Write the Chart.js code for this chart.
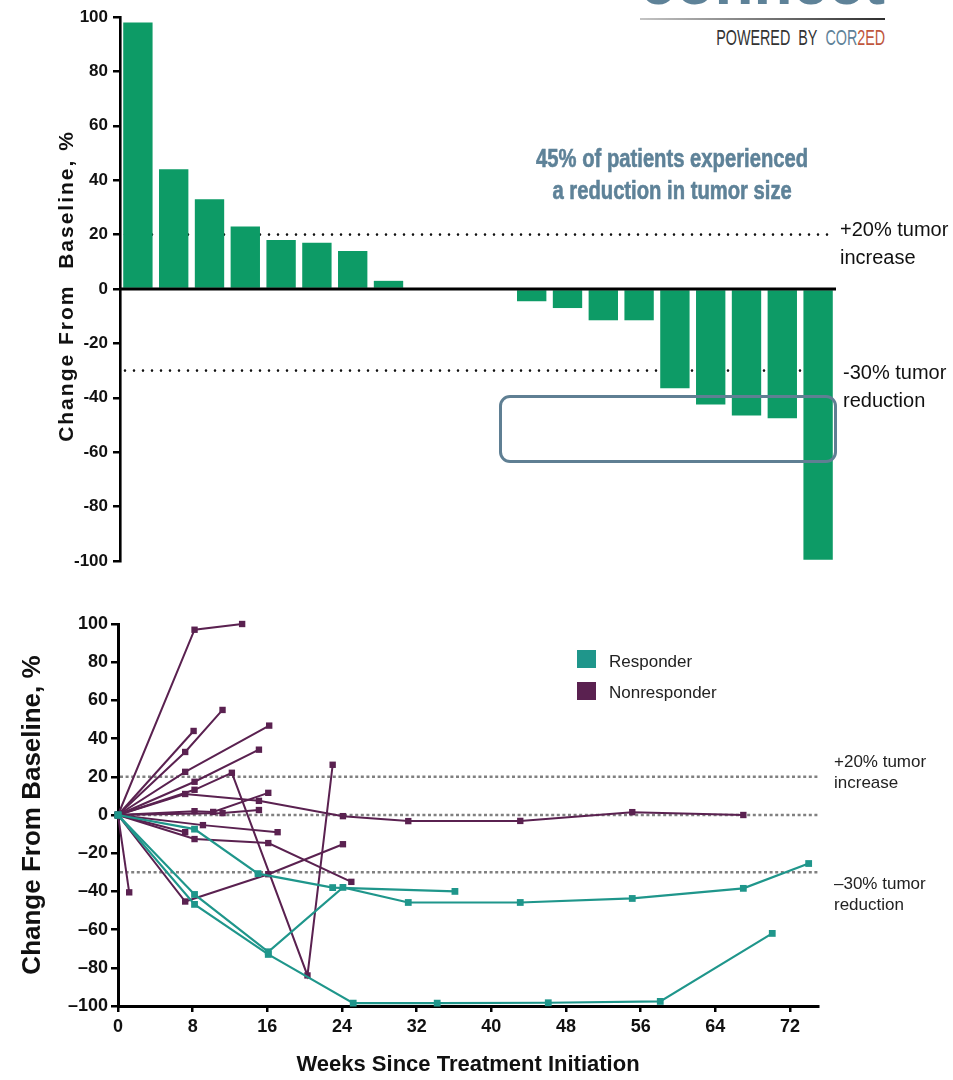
<!DOCTYPE html>
<html>
<head>
<meta charset="utf-8">
<script src="https://cdn.jsdelivr.net/npm/chart.js@4.4.1/dist/chart.umd.min.js"></script>
<style>
  body { margin: 0; width: 953px; height: 1080px; position: relative; overflow: hidden; background: #fff;
         font-family: "Liberation Sans", Arial, sans-serif; }
  .abs { position: absolute; white-space: nowrap; }
  #logo-word { left: 640px; top: -50px; font-size: 64px; line-height: 64px; font-weight: bold; color: #5e8298;
               transform-origin: left top; }
  #logo-rule { left: 640px; top: 18px; width: 245px; height: 2px; background: linear-gradient(to right, #c4c4c4, #2e2e2e); }
  #logo-by { right: 68px; top: 26px; font-family: "Liberation Sans Narrow", "Liberation Sans", sans-serif; font-size: 22px;
             line-height: 24px; color: #333; transform-origin: right top; }
  #logo-by .b { color: #5e8298; }
  #logo-by .r { color: #c0573d; }
  #headline { left: 472px; width: 400px; top: 142px; text-align: center; font-family: "Liberation Sans", Arial, sans-serif;
              font-weight: bold; font-size: 25px; line-height: 32px; color: #5e8298; -webkit-text-stroke: 0.6px #5e8298; }
  #headline span { display: inline-block; transform-origin: center top; }
  .note-top { font-size: 20px; line-height: 28px; color: #111; }
  .note-bot { font-size: 17px; line-height: 21px; color: #222; }
  #top-ytitle { left: -134px; top: 273px; width: 400px; text-align: center; font-weight: bold; font-size: 21px; line-height: 26px;
                letter-spacing: 2px; color: #111; transform: rotate(-90deg); white-space: pre; }
  #box { left: 499px; top: 395px; width: 338px; height: 68px; box-sizing: border-box; border: 3px solid #5f7f93; border-radius: 11px; }
  .swatch { width: 19px; height: 18px; }
  .legend-text { font-size: 17px; line-height: 20px; color: #222; }
  canvas { position: absolute; left: 0; }
</style>
</head>
<body>
<div id="logo-word" class="abs">connect</div>
<div id="logo-rule" class="abs"></div>
<div id="logo-by" class="abs">POWERED&nbsp; BY&nbsp; <span class="b">COR</span><span class="r">2ED</span></div>

<canvas id="waterfall" width="953" height="580" style="top:0"></canvas>
<canvas id="spider" width="953" height="490" style="top:590px"></canvas>

<div id="top-ytitle" class="abs">Change From  Baseline, %</div>
<div id="headline" class="abs"><span id="hl">45% of patients experienced<br>a reduction in tumor size</span></div>
<div class="abs note-top" style="left:840px; top:215px">+20% tumor<br>increase</div>
<div class="abs note-top" style="left:843px; top:358px">-30% tumor<br>reduction</div>
<div id="box" class="abs"></div>

<div class="abs swatch" style="left:577px; top:650px; background:#1f968b"></div>
<div class="abs legend-text" style="left:609px; top:652px">Responder</div>
<div class="abs swatch" style="left:577px; top:682px; background:#5a2150"></div>
<div class="abs legend-text" style="left:609px; top:683px">Nonresponder</div>
<div class="abs note-bot" style="left:834px; top:751px">+20% tumor<br>increase</div>
<div class="abs note-bot" style="left:834px; top:873px">&ndash;30% tumor<br>reduction</div>

<script>
// Waterfall: best change from baseline per patient
const waterfallPatients = ['1','2','3','4','5','6','7','8','9','10','11','12','13','14','15','16','17','18','19','20'];
const waterfallChange = [98, 44, 33, 23, 18, 17, 14, 3, 0, 0, 0, -4.5, -7, -11.5, -11.5, -36.5, -42.5, -46.5, -47.5, -99.5];
const waterfallTicks = [-100, -80, -60, -40, -20, 0, 20, 40, 60, 80, 100];
const waterfallRefLines = [20, -30];

// Spider plot: change over time for each patient
const weekTicks = [0, 8, 16, 24, 32, 40, 48, 56, 64, 72];
const spiderTicks = [-100, -80, -60, -40, -20, 0, 20, 40, 60, 80, 100];
const spiderRefLines = [20, 0, -30];

const responderWeeks = [
  [0, 8.2, 15, 23, 36.1],
  [0, 8.2, 16.1, 24.1, 31.1, 43.1, 55.1, 67, 74],
  [0, 8.2, 16.1, 25.2, 34.2, 46.1, 58.1, 70.1]
];
const responderChange = [
  [0, -7.4, -30.7, -38, -40],
  [0, -41.6, -71.6, -37.9, -45.8, -45.8, -43.7, -38.4, -25.4],
  [0, -46.8, -73, -98.5, -98.5, -98.3, -97.6, -62]
];

const nonresponderWeeks = [
  [0, 8.2, 13.3],
  [0, 8.1],
  [0, 7.2, 11.2],
  [0, 7.2, 16.2],
  [0, 8.2, 15.1],
  [0, 8.2, 12.2, 20.3, 23],
  [0, 7.2, 15.1, 24.1, 31.1, 43.1, 55.1, 67],
  [0, 8.2, 10.2, 16.1],
  [0, 11.2, 15.1],
  [0, 9.1, 17.1],
  [0, 7.2],
  [0, 8.2, 16.1, 25],
  [0, 7.2, 16.1, 24.1],
  [0, 1.2]
];
const nonresponderChange = [
  [0, 97, 100],
  [0, 44],
  [0, 33, 55],
  [0, 22.6, 46.8],
  [0, 17.4, 34.2],
  [0, 13.2, 22.1, -84, 26.3],
  [0, 11, 7.4, -0.6, -3.2, -3.1, 1.5, 0],
  [0, 2, 1.6, 11.6],
  [0, 1, 2.6],
  [0, -5.3, -9],
  [0, -9],
  [0, -12.6, -14.7, -35],
  [0, -45.3, -31, -15.3],
  [0, -40.5]
];

const TEAL = '#1f968b';
const PURPLE = '#5a2150';
const FONT = '"Liberation Sans", Arial, sans-serif';

// dotted reference lines behind the bars, zero line on top
const waterfallLines = {
  id: 'waterfallLines',
  beforeDatasetsDraw(chart) {
    const { ctx, chartArea, scales: { y } } = chart;
    ctx.save();
    ctx.strokeStyle = '#111';
    ctx.lineWidth = 2.6;
    ctx.lineCap = 'round';
    ctx.setLineDash([0, 9]);
    waterfallRefLines.forEach(v => {
      const py = y.getPixelForValue(v);
      ctx.beginPath();
      ctx.moveTo(chartArea.left + 5, py);
      ctx.lineTo(chartArea.right - 8, py);
      ctx.stroke();
    });
    ctx.restore();
  },
  afterDatasetsDraw(chart) {
    const { ctx, chartArea, scales: { y } } = chart;
    const py = y.getPixelForValue(0);
    ctx.save();
    ctx.strokeStyle = '#000';
    ctx.lineWidth = 2.8;
    ctx.beginPath();
    ctx.moveTo(chartArea.left, py);
    ctx.lineTo(chartArea.right, py);
    ctx.stroke();
    ctx.restore();
  }
};

const spiderLines = {
  id: 'spiderLines',
  beforeDatasetsDraw(chart) {
    const { ctx, chartArea, scales: { y } } = chart;
    ctx.save();
    ctx.strokeStyle = '#808080';
    ctx.lineWidth = 2.6;
    ctx.setLineDash([3, 2.6]);
    spiderRefLines.forEach(v => {
      const py = y.getPixelForValue(v);
      ctx.beginPath();
      ctx.moveTo(chartArea.left + 2, py);
      ctx.lineTo(chartArea.right, py);
      ctx.stroke();
    });
    ctx.restore();
  }
};

new Chart(document.getElementById('waterfall'), {
  type: 'bar',
  data: {
    labels: waterfallPatients,
    datasets: [{
      data: waterfallChange,
      backgroundColor: '#0d9b66',
      barPercentage: 0.82,
      categoryPercentage: 1
    }]
  },
  options: {
    responsive: false,
    animation: false,
    layout: { padding: { top: 17, right: 117, bottom: 19, left: 0 } },
    plugins: { legend: { display: false }, tooltip: { enabled: false } },
    scales: {
      x: { display: false },
      y: {
        min: -100, max: 100,
        afterFit: s => { s.width = 120; },
        afterBuildTicks: s => { s.ticks = waterfallTicks.map(v => ({ value: v })); },
        ticks: { color: '#111', padding: 5, font: { family: FONT, size: 17, weight: 'bold' } },
        grid: { drawOnChartArea: false, tickLength: 7, color: '#000', lineWidth: 2.5 },
        border: { color: '#000', width: 2.6 }
      }
    }
  },
  plugins: [waterfallLines]
});

const spiderSets = [];
responderWeeks.forEach((weeks, i) => {
  spiderSets.push({
    label: 'Responder',
    data: weeks.map((w, j) => ({ x: w, y: responderChange[i][j] })),
    borderColor: TEAL, backgroundColor: TEAL,
    borderWidth: 2.2, pointStyle: 'rect', pointRadius: 4.8, pointBorderWidth: 0,
    clip: false
  });
});
nonresponderWeeks.forEach((weeks, i) => {
  spiderSets.push({
    label: 'Nonresponder',
    data: weeks.map((w, j) => ({ x: w, y: nonresponderChange[i][j] })),
    borderColor: PURPLE, backgroundColor: PURPLE,
    borderWidth: 2, pointStyle: 'rect', pointRadius: 4.5, pointBorderWidth: 0,
    clip: false
  });
});

new Chart(document.getElementById('spider'), {
  type: 'line',
  data: { datasets: spiderSets },
  options: {
    responsive: false,
    animation: false,
    layout: { padding: { top: 34, right: 135, bottom: 0, left: 0 } },
    plugins: { legend: { display: false }, tooltip: { enabled: false } },
    scales: {
      x: {
        type: 'linear', min: 0, max: 75,
        afterFit: s => { s.height = 74; },
        afterBuildTicks: s => { s.ticks = weekTicks.map(v => ({ value: v })); },
        ticks: { color: '#111', padding: 4, maxRotation: 0, font: { family: FONT, size: 18, weight: 'bold' } },
        grid: { drawOnChartArea: false, tickLength: 6, color: '#000', lineWidth: 2.5 },
        border: { color: '#000', width: 3 },
        title: { display: true, text: 'Weeks Since Treatment Initiation', color: '#111',
                 font: { family: FONT, size: 22, weight: 'bold' }, padding: { top: 0, bottom: 2 } }
      },
      y: {
        min: -100, max: 100,
        afterFit: s => { s.width = 118; },
        afterBuildTicks: s => { s.ticks = spiderTicks.map(v => ({ value: v })); },
        ticks: { color: '#111', padding: 3, font: { family: FONT, size: 18, weight: 'bold' },
                 callback: v => v < 0 ? '\u2013' + Math.abs(v) : String(v) },
        grid: { drawOnChartArea: false, tickLength: 7, color: '#000', lineWidth: 2.5 },
        border: { color: '#000', width: 3 },
        title: { display: true, text: 'Change From Baseline, %', color: '#111',
                 font: { family: FONT, size: 26, weight: 'bold' }, padding: { top: 17, bottom: 0 } }
      }
    }
  },
  plugins: [spiderLines]
});

// squeeze the condensed-looking texts to their measured widths
function fitWidth(el, target) {
  const w = el.getBoundingClientRect().width;
  if (w > 0) el.style.transform = 'scaleX(' + (target / w) + ')';
}
fitWidth(document.getElementById('hl'), 272);
fitWidth(document.getElementById('logo-by'), 169);
fitWidth(document.getElementById('logo-word'), 245);
</script>
</body>
</html>
